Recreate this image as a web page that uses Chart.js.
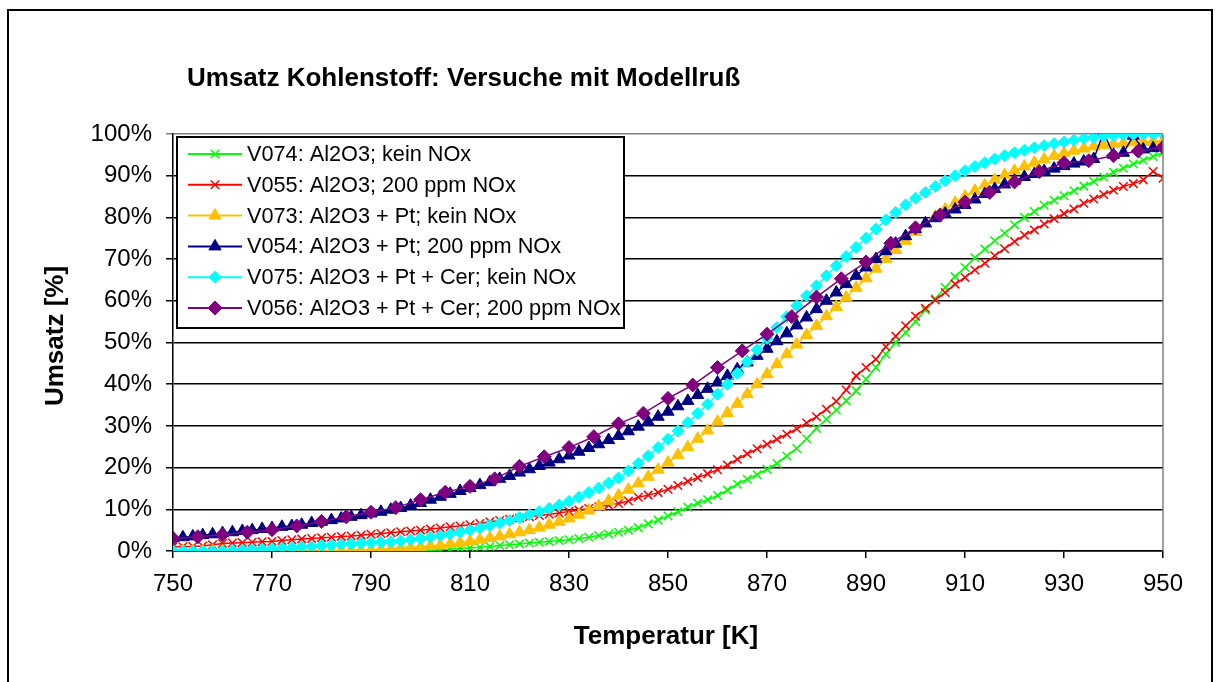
<!DOCTYPE html>
<html>
<head>
<meta charset="utf-8">
<style>
  html, body { margin: 0; padding: 0; background: #fff; }
  #wrap { width: 1220px; height: 682px; }
</style>
<script src="https://cdn.jsdelivr.net/npm/chart.js@4/dist/chart.umd.min.js"></script>
</head>
<body>
<div id="wrap"><canvas id="umsatzChart" width="1220" height="682"></canvas></div>
<script>
var chartTitle = 'Umsatz Kohlenstoff: Versuche mit Modellruß';
var xTitle = 'Temperatur [K]';
var yTitle = 'Umsatz [%]';

var xTicks = [750, 770, 790, 810, 830, 850, 870, 890, 910, 930, 950];
var yTicks = [0, 10, 20, 30, 40, 50, 60, 70, 80, 90, 100];

// temperatures of the dense series (every 2 K) and of V056 (every 5 K)
var temps2 = [
  750, 752, 754, 756, 758, 760, 762, 764, 766, 768,
  770, 772, 774, 776, 778, 780, 782, 784, 786, 788,
  790, 792, 794, 796, 798, 800, 802, 804, 806, 808,
  810, 812, 814, 816, 818, 820, 822, 824, 826, 828,
  830, 832, 834, 836, 838, 840, 842, 844, 846, 848,
  850, 852, 854, 856, 858, 860, 862, 864, 866, 868,
  870, 872, 874, 876, 878, 880, 882, 884, 886, 888,
  890, 892, 894, 896, 898, 900, 902, 904, 906, 908,
  910, 912, 914, 916, 918, 920, 922, 924, 926, 928,
  930, 932, 934, 936, 938, 940, 942, 944, 946, 948,
  950
];
var temps5 = [
  750, 755, 760, 765, 770, 775, 780, 785, 790, 795,
  800, 805, 810, 815, 820, 825, 830, 835, 840, 845,
  850, 855, 860, 865, 870, 875, 880, 885, 890, 895,
  900, 905, 910, 915, 920, 925, 930, 935, 940, 945,
  950
];

var v074 = [
  null, null, null, null, null, null, null, null, null, null,
  null, null, null, null, null, null, null, null, null, null,
  null, null, null, 0, 0, 0.1, 0.2, 0.3, 0.4, 0.6,
  0.8, 0.9, 1.1, 1.3, 1.5, 1.7, 1.9, 2.1, 2.3, 2.5,
  2.7, 3.0, 3.3, 3.7, 4.1, 4.5, 5.0, 5.6, 6.5, 7.4,
  8.4, 9.4, 10.5, 11.5, 12.3, 13.3, 14.6, 16.0, 17.2, 18.3,
  19.6, 21.0, 22.8, 24.6, 26.9, 29.4, 31.6, 33.8, 36.0, 38.4,
  41.2, 44.0, 47.2, 50.0, 52.4, 55.0, 57.8, 60.5, 63.2, 65.8,
  68.0, 70.3, 72.4, 74.4, 76.2, 78.2, 80.0, 81.4, 82.9, 84.1,
  85.2, 86.4, 87.5, 88.6, 89.7, 90.8, 91.8, 92.8, 93.7, 94.6,
  95.5
];
var v055 = [
  1.0, 1.0, 1.1, 1.2, 1.5, 1.8, 1.9, 2.0, 2.1, 2.2,
  2.3, 2.5, 2.7, 2.9, 3.0, 3.2, 3.3, 3.5, 3.6, 3.8,
  4.0, 4.2, 4.4, 4.6, 4.8, 5.0, 5.3, 5.5, 5.8, 6.0,
  6.3, 6.6, 7.0, 7.3, 7.6, 7.9, 8.2, 8.5, 8.8, 9.1,
  9.5, 9.8, 10.2, 10.6, 11.0, 11.4, 12.0, 12.9, 13.4, 14.0,
  14.8, 15.7, 16.7, 17.6, 18.5, 19.5, 20.6, 22.0, 23.3, 24.5,
  25.6, 26.8, 28.0, 29.3, 30.7, 32.2, 34.0, 35.9, 38.6, 42.0,
  44.0, 46.0, 49.0, 51.5, 54.0, 56.3, 58.2, 60.2, 62.0, 64.0,
  65.6, 67.4, 69.0, 70.8, 72.5, 74.2, 75.7, 77.0, 78.4, 79.7,
  80.9, 82.0, 83.4, 84.4, 85.5, 86.5, 87.4, 88.1, 89.0, 91.0,
  89.4
];
var v073 = [
  0, 0, 0, 0, 0, 0, 0, 0, 0, 0,
  0, 0, 0, 0, 0, 0, 0.1, 0.1, 0.2, 0.2,
  0.3, 0.4, 0.5, 0.6, 0.8, 1.0, 1.2, 1.4, 1.7, 2.0,
  2.3, 2.7, 3.1, 3.5, 4.0, 4.5, 5.0, 5.6, 6.3, 7.0,
  7.8, 8.7, 9.7, 10.8, 12.0, 13.3, 14.7, 16.2, 17.8, 19.5,
  21.2, 23.0, 24.9, 26.9, 28.9, 31.0, 33.1, 35.3, 37.6, 40.0,
  42.4, 44.8, 47.2, 49.5, 51.8, 54.0, 56.3, 58.5, 60.8, 63.1,
  65.4, 67.7, 70.0, 72.2, 74.4, 76.5, 78.4, 80.2, 81.9, 83.5,
  85.0, 86.4, 87.7, 89.0, 90.1, 91.2, 92.2, 93.1, 93.9, 94.7,
  95.4, 96.0, 96.5, 97.0, 97.3, 97.6, 97.8, 98.0, 98.1, 98.2,
  98.3
];
var v054 = [
  3.1, 3.3, 3.5, 3.8, 4.0, 4.3, 4.5, 4.8, 5.0, 5.3,
  5.5, 5.8, 6.0, 6.3, 6.7, 7.0, 7.4, 7.8, 8.2, 8.6,
  9.0, 9.4, 9.9, 10.3, 10.9, 11.5, 12.3, 13.0, 13.7, 14.4,
  15.1, 15.8, 16.5, 17.3, 18.0, 18.8, 19.6, 20.4, 21.2, 22.0,
  22.9, 23.8, 24.7, 25.6, 26.6, 27.6, 28.7, 29.8, 31.0, 32.2,
  33.4, 34.7, 36.0, 37.4, 38.9, 40.4, 42.0, 43.6, 45.2, 46.8,
  48.5, 50.3, 52.2, 54.1, 56.0, 58.0, 60.0, 62.0, 64.0, 66.0,
  68.0, 70.0, 71.9, 73.7, 75.5, 77.2, 78.6, 79.8, 80.9, 81.9,
  83.0, 84.3, 85.6, 86.8, 87.9, 88.8, 89.7, 90.4, 91.1, 91.7,
  92.3, 92.9, 93.4, 94.0, 100.4, 95.0, 95.5, 99.6, 96.3, 96.6,
  97.0
];
var v075 = [
  0, 0, 0, 0, 0, 0, 0.2, 0.3, 0.4, 0.5,
  0.6, 0.7, 0.8, 1.0, 1.1, 1.3, 1.4, 1.6, 1.7, 1.9,
  2.0, 2.1, 2.2, 2.4, 2.7, 3.0, 3.3, 3.7, 4.1, 4.5,
  5.0, 5.5, 6.1, 6.7, 7.3, 8.0, 8.7, 9.4, 10.2, 11.0,
  11.9, 12.9, 14.0, 15.1, 16.3, 17.5, 19.2, 21.0, 22.8, 24.8,
  26.8, 28.8, 30.8, 33.0, 35.2, 37.6, 40.0, 42.6, 45.4, 48.2,
  51.0, 53.6, 56.2, 58.8, 61.2, 63.6, 66.0, 68.4, 70.6, 72.8,
  75.0, 77.2, 79.4, 81.2, 83.0, 84.6, 86.0, 87.4, 88.8, 90.0,
  91.2, 92.2, 93.1, 94.0, 94.8, 95.5, 96.1, 96.7, 97.2, 97.7,
  98.1, 98.5, 98.9, 99.2, 99.5, 99.7, 99.8, 99.9, 100, 100,
  100
];
var v056 = [
  3.0, 3.4, 3.9, 4.5, 5.1, 6.0, 7.1, 8.2, 9.3, 10.4,
  12.3, 14.1, 15.5, 17.3, 20.3, 22.6, 24.8, 27.4, 30.5, 33.0,
  36.6, 39.8, 44.0, 48.0, 52.0, 56.2, 60.9, 65.3, 69.3, 73.8,
  77.5, 80.6, 83.7, 86.0, 88.5, 91.0, 93.1, 93.6, 94.8, 95.9,
  96.8
];

var seriesLabels = [
  'V074: Al2O3; kein NOx',
  'V055: Al2O3; 200 ppm NOx',
  'V073: Al2O3 + Pt; kein NOx',
  'V054: Al2O3 + Pt; 200 ppm NOx',
  'V075: Al2O3 + Pt + Cer; kein NOx',
  'V056: Al2O3 + Pt + Cer; 200 ppm NOx'
];

(function () {
  var FONT = "'Liberation Sans', Arial, sans-serif";

  function toPoints(xs, ys) {
    return xs.map(function (x, i) { return { x: x, y: ys[i] }; });
  }

  function series(i, xs, ys, color, style, radius, bw) {
    return {
      label: seriesLabels[i],
      data: toPoints(xs, ys),
      borderColor: color,
      backgroundColor: color,
      borderWidth: 1.5,
      pointStyle: style,
      pointRadius: radius,
      pointBorderWidth: bw,
      pointBackgroundColor: color,
      pointBorderColor: color,
      tension: 0,
      order: 5 - i
    };
  }

  var datasets = [
    series(0, temps2, v074, '#00ff00', 'crossRot', 6, 1.5),
    series(1, temps2, v055, '#ff0000', 'crossRot', 6, 1.5),
    series(2, temps2, v073, '#ffc000', 'triangle', 7, 1),
    series(3, temps2, v054, '#000080', 'triangle', 7, 1),
    series(4, temps2, v075, '#00ffff', 'rectRot', 6, 1),
    series(5, temps5, v056, '#800080', 'rectRot', 7, 1)
  ];

  // frame, titles, legend box and plot border
  var decor = {
    id: 'decor',
    beforeDraw: function (chart) {
      var c = chart.ctx;
      c.save();
      c.fillStyle = '#fff';
      c.fillRect(0, 0, chart.width, chart.height);
      c.strokeStyle = '#000';
      c.lineWidth = 2;
      c.strokeRect(8, 10, 1204, 700);
      c.restore();
    },
    afterDraw: function (chart) {
      var c = chart.ctx;
      var a = chart.chartArea;
      c.save();
      // right border of plot area
      c.strokeStyle = '#808080';
      c.lineWidth = 1.5;
      c.beginPath();
      c.moveTo(a.right, a.top);
      c.lineTo(a.right, a.bottom);
      c.stroke();

      c.fillStyle = '#000';
      c.font = 'bold 26px ' + FONT;
      c.textBaseline = 'middle';
      c.textAlign = 'left';
      c.fillText(chartTitle, 187, 79);
      c.textAlign = 'center';
      c.fillText(xTitle, 666, 637);
      c.save();
      c.translate(56, 336);
      c.rotate(-Math.PI / 2);
      c.fillText(yTitle, 0, 0);
      c.restore();

      // legend
      var lx = 177, ly = 137, lw = 447, lh = 191;
      c.fillStyle = '#fff';
      c.fillRect(lx, ly, lw, lh);
      c.strokeStyle = '#000';
      c.lineWidth = 2;
      c.strokeRect(lx, ly, lw, lh);
      c.font = '21.7px ' + FONT;
      c.textAlign = 'left';
      c.textBaseline = 'middle';
      chart.data.datasets.forEach(function (ds, i) {
        var y = 154 + i * 30.8;
        c.strokeStyle = ds.borderColor;
        c.lineWidth = 2;
        c.beginPath();
        c.moveTo(188, y);
        c.lineTo(242, y);
        c.stroke();
        c.fillStyle = ds.borderColor;
        c.strokeStyle = ds.borderColor;
        c.lineWidth = ds.pointBorderWidth;
        if (Chart.helpers && Chart.helpers.drawPoint) {
          Chart.helpers.drawPoint(c, {
            pointStyle: ds.pointStyle,
            radius: ds.pointRadius,
            rotation: 0,
            borderWidth: ds.pointBorderWidth
          }, 215, y);
        }
        c.fillStyle = '#000';
        c.fillText(ds.label, 247, y + 1);
      });
      c.restore();
    }
  };

  var ctx = document.getElementById('umsatzChart');
  new Chart(ctx.getContext('2d'), {
    type: 'line',
    data: { datasets: datasets },
    plugins: [decor],
    options: {
      responsive: false,
      animation: false,
      devicePixelRatio: 1,
      layout: {
        padding: { top: 134, right: 57, bottom: 0, left: 0 }
      },
      plugins: {
        legend: { display: false },
        title: { display: false },
        tooltip: { enabled: false }
      },
      scales: {
        x: {
          type: 'linear',
          min: xTicks[0],
          max: xTicks[xTicks.length - 1],
          afterFit: function (s) { s.height = 131; },
          afterBuildTicks: function (s) {
            s.ticks = xTicks.map(function (v) { return { value: v }; });
          },
          grid: {
            drawOnChartArea: false,
            color: '#000',
            lineWidth: 1.5,
            tickLength: 7
          },
          border: { color: '#000', width: 1.5 },
          ticks: {
            color: '#000',
            padding: 12,
            maxRotation: 0,
            font: { family: FONT, size: 24 }
          }
        },
        y: {
          min: yTicks[0],
          max: yTicks[yTicks.length - 1],
          afterFit: function (s) { s.width = 173; },
          afterBuildTicks: function (s) {
            s.ticks = yTicks.map(function (v) { return { value: v }; });
          },
          grid: {
            color: function (c) { return c.tick && c.tick.value === 100 ? '#808080' : '#000'; },
            lineWidth: 1.5,
            tickLength: 7
          },
          border: { color: '#000', width: 1.5 },
          ticks: {
            color: '#000',
            padding: 14,
            font: { family: FONT, size: 24 },
            callback: function (v) { return v + '%'; }
          }
        }
      }
    }
  });
})();
</script>
</body>
</html>
